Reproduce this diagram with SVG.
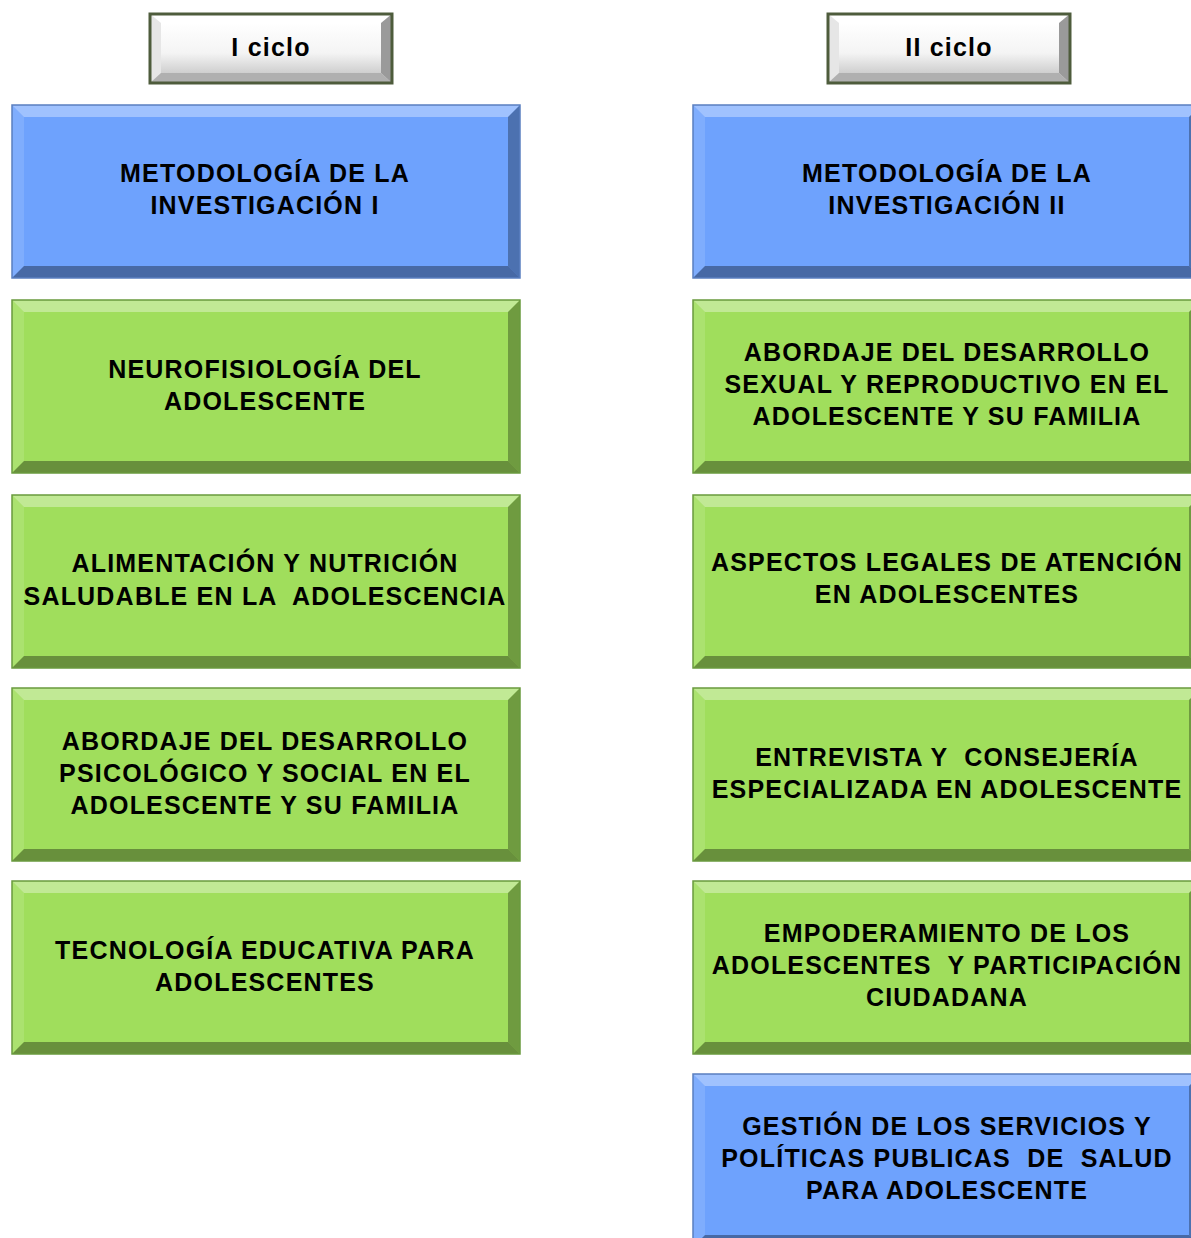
<svg xmlns="http://www.w3.org/2000/svg" xmlns:xlink="http://www.w3.org/1999/xlink" width="1191" height="1238" viewBox="0 0 1191 1238">
<style>
.t{font-family:"Liberation Sans",Arial,sans-serif;font-weight:bold;font-size:25px;letter-spacing:1.2px;fill:#000;text-anchor:middle;white-space:pre}
.blue{fill:#6ea2fd}
.green{fill:#a0de5c}
.bb{fill:none;stroke:#5a7fc0;stroke-width:1.5}
.gb{fill:none;stroke:#6a9a3e;stroke-width:1.5}
</style>
<defs>
<symbol id="bev" viewBox="0 0 508 173" width="508" height="173" overflow="visible">
<polygon points="0,0 508,0 496,12 12,12" fill="#fff" fill-opacity="0.35"/>
<polygon points="0,0 12,12 12,161 0,173" fill="#fff" fill-opacity="0.12"/>
<polygon points="508,0 508,173 496,161 496,12" fill="#000" fill-opacity="0.3"/>
<polygon points="0,173 508,173 496,161 12,161" fill="#000" fill-opacity="0.35"/>
</symbol>
<linearGradient id="hg" x1="0" y1="0" x2="0" y2="1">
<stop offset="0" stop-color="#ffffff"/>
<stop offset="0.6" stop-color="#f4f4f4"/>
<stop offset="1" stop-color="#cfcfcf"/>
</linearGradient>
<symbol id="hbev" viewBox="0 0 244 71" width="244" height="71" overflow="visible">
<rect x="0" y="0" width="244" height="71" fill="url(#hg)"/>
<polygon points="0,0 244,0 232,10 12,10" fill="#fff"/>
<polygon points="0,0 12,10 12,60 0,71" fill="#e6e6e6"/>
<polygon points="244,0 244,71 232,60 232,10" fill="#9a9a9a"/>
<polygon points="0,71 244,71 232,60 12,60" fill="#b0b0b0"/>
<rect x="12" y="10" width="220" height="50" fill="url(#hg)"/>
<rect x="1" y="1" width="242" height="69" fill="none" stroke="#4e5c3c" stroke-width="3"/>
</symbol>
</defs>

<g id="h1"><use href="#hbev" x="149" y="13"/><text class="t" x="271" y="56">I ciclo</text></g>
<g id="h2"><use href="#hbev" x="827" y="13"/><text class="t" x="949" y="56">II ciclo</text></g>

<g id="l1"><rect class="blue" x="12" y="105" width="508" height="173"/><use href="#bev" x="12" y="105"/><rect class="bb" x="12" y="105" width="508" height="173"/>
<text class="t" x="265" y="182">METODOLOGÍA DE LA</text><text class="t" x="265" y="214">INVESTIGACIÓN I</text></g>

<g id="l2"><rect class="green" x="12" y="300" width="508" height="173"/><use href="#bev" x="12" y="300"/><rect class="gb" x="12" y="300" width="508" height="173"/>
<text class="t" x="265" y="378">NEUROFISIOLOGÍA DEL</text><text class="t" x="265" y="410">ADOLESCENTE</text></g>

<g id="l3"><rect class="green" x="12" y="495" width="508" height="173"/><use href="#bev" x="12" y="495"/><rect class="gb" x="12" y="495" width="508" height="173"/>
<text class="t" x="265" y="572">ALIMENTACIÓN Y NUTRICIÓN</text><text class="t" x="265" y="605">SALUDABLE EN LA  ADOLESCENCIA</text></g>

<g id="l4"><rect class="green" x="12" y="688" width="508" height="173"/><use href="#bev" x="12" y="688"/><rect class="gb" x="12" y="688" width="508" height="173"/>
<text class="t" x="265" y="750">ABORDAJE DEL DESARROLLO</text><text class="t" x="265" y="782">PSICOLÓGICO Y SOCIAL EN EL</text><text class="t" x="265" y="814">ADOLESCENTE Y SU FAMILIA</text></g>

<g id="l5"><rect class="green" x="12" y="881" width="508" height="173"/><use href="#bev" x="12" y="881"/><rect class="gb" x="12" y="881" width="508" height="173"/>
<text class="t" x="265" y="959">TECNOLOGÍA EDUCATIVA PARA</text><text class="t" x="265" y="991">ADOLESCENTES</text></g>

<g id="r1"><rect class="blue" x="693" y="105" width="508" height="173"/><use href="#bev" x="693" y="105"/><rect class="bb" x="693" y="105" width="508" height="173"/>
<text class="t" x="947" y="182">METODOLOGÍA DE LA</text><text class="t" x="947" y="214">INVESTIGACIÓN II</text></g>

<g id="r2"><rect class="green" x="693" y="300" width="508" height="173"/><use href="#bev" x="693" y="300"/><rect class="gb" x="693" y="300" width="508" height="173"/>
<text class="t" x="947" y="361">ABORDAJE DEL DESARROLLO</text><text class="t" x="947" y="393">SEXUAL Y REPRODUCTIVO EN EL</text><text class="t" x="947" y="425">ADOLESCENTE Y SU FAMILIA</text></g>

<g id="r3"><rect class="green" x="693" y="495" width="508" height="173"/><use href="#bev" x="693" y="495"/><rect class="gb" x="693" y="495" width="508" height="173"/>
<text class="t" x="947" y="571">ASPECTOS LEGALES DE ATENCIÓN</text><text class="t" x="947" y="603">EN ADOLESCENTES</text></g>

<g id="r4"><rect class="green" x="693" y="688" width="508" height="173"/><use href="#bev" x="693" y="688"/><rect class="gb" x="693" y="688" width="508" height="173"/>
<text class="t" x="947" y="766">ENTREVISTA Y  CONSEJERÍA</text><text class="t" x="947" y="798">ESPECIALIZADA EN ADOLESCENTE</text></g>

<g id="r5"><rect class="green" x="693" y="881" width="508" height="173"/><use href="#bev" x="693" y="881"/><rect class="gb" x="693" y="881" width="508" height="173"/>
<text class="t" x="947" y="942">EMPODERAMIENTO DE LOS</text><text class="t" x="947" y="974">ADOLESCENTES  Y PARTICIPACIÓN</text><text class="t" x="947" y="1006">CIUDADANA</text></g>

<g id="r6"><rect class="blue" x="693" y="1074" width="508" height="173"/><use href="#bev" x="693" y="1074"/><rect class="bb" x="693" y="1074" width="508" height="173"/>
<text class="t" x="947" y="1135">GESTIÓN DE LOS SERVICIOS Y</text><text class="t" x="947" y="1167">POLÍTICAS PUBLICAS  DE  SALUD</text><text class="t" x="947" y="1199">PARA ADOLESCENTE</text></g>

<g id="connectors"/>
</svg>
